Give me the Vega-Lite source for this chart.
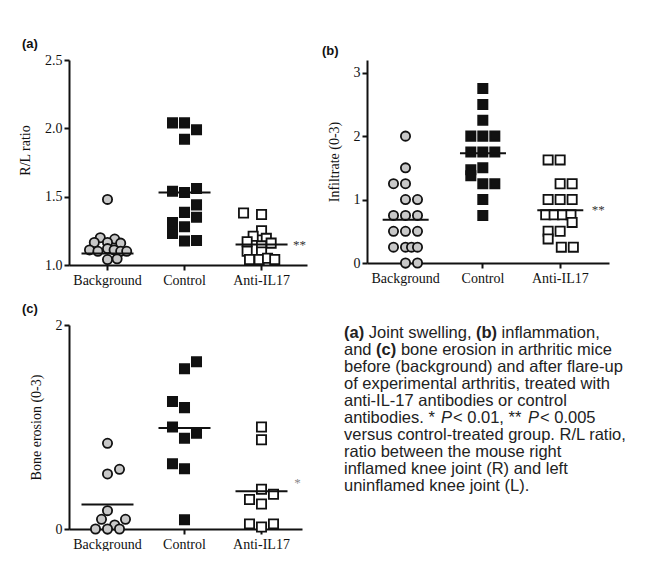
{
  "$schema": "https://vega.github.io/schema/vega-lite/v6.json",
  "padding": {"left": 18, "top": 38, "right": 0, "bottom": 0},
  "background": "white",
  "bounds": "flush",
  "align": "none",
  "columns": 2,
  "spacing": {"row": 60, "column": 60},
  "config": {
    "view": {"stroke": null},
    "axis": {
      "domainColor": "#111", "domainWidth": 2, "tickColor": "#111", "tickWidth": 2, "tickSize": 5,
      "labelFont": "Liberation Serif", "labelFontSize": 14, "labelColor": "#111", "labelPadding": 2,
      "titleFont": "Liberation Serif", "titleFontSize": 14, "titleFontWeight": "normal", "titleColor": "#111",
      "grid": false
    },
    "axisX": {"labelAngle": 0, "title": null, "labelPadding": 3},
    "axisY": {"titlePadding": 12},
    "title": {"font": "Liberation Sans", "fontSize": 13, "fontWeight": "bold", "color": "#111", "anchor": "start", "frame": "group", "offset": 2}
  },
  "datasets": {
    "points": [
      {"panel": "a", "group": "Background", "value": 1.48, "col": 0},
      {"panel": "a", "group": "Background", "value": 1.20, "col": -0.6},
      {"panel": "a", "group": "Background", "value": 1.19, "col": 0.6},
      {"panel": "a", "group": "Background", "value": 1.165, "col": -1.1},
      {"panel": "a", "group": "Background", "value": 1.165, "col": 0},
      {"panel": "a", "group": "Background", "value": 1.16, "col": 1.1},
      {"panel": "a", "group": "Background", "value": 1.11, "col": -1.5},
      {"panel": "a", "group": "Background", "value": 1.10, "col": -0.8},
      {"panel": "a", "group": "Background", "value": 1.12, "col": 0},
      {"panel": "a", "group": "Background", "value": 1.11, "col": 0.55},
      {"panel": "a", "group": "Background", "value": 1.10, "col": 1.1},
      {"panel": "a", "group": "Background", "value": 1.10, "col": 1.6},
      {"panel": "a", "group": "Background", "value": 1.04, "col": 0},
      {"panel": "a", "group": "Background", "value": 1.045, "col": 0.8},
      {"panel": "a", "group": "Control", "value": 2.04, "col": -1},
      {"panel": "a", "group": "Control", "value": 2.04, "col": 0},
      {"panel": "a", "group": "Control", "value": 1.99, "col": 1},
      {"panel": "a", "group": "Control", "value": 1.92, "col": 0},
      {"panel": "a", "group": "Control", "value": 1.54, "col": -1},
      {"panel": "a", "group": "Control", "value": 1.53, "col": 0},
      {"panel": "a", "group": "Control", "value": 1.56, "col": 1},
      {"panel": "a", "group": "Control", "value": 1.44, "col": 1},
      {"panel": "a", "group": "Control", "value": 1.385, "col": 0},
      {"panel": "a", "group": "Control", "value": 1.35, "col": 1},
      {"panel": "a", "group": "Control", "value": 1.31, "col": -1},
      {"panel": "a", "group": "Control", "value": 1.28, "col": 0},
      {"panel": "a", "group": "Control", "value": 1.23, "col": -1},
      {"panel": "a", "group": "Control", "value": 1.175, "col": 0},
      {"panel": "a", "group": "Control", "value": 1.18, "col": 1},
      {"panel": "a", "group": "Anti-IL17", "value": 1.38, "col": -1.5},
      {"panel": "a", "group": "Anti-IL17", "value": 1.37, "col": 0},
      {"panel": "a", "group": "Anti-IL17", "value": 1.25, "col": 0},
      {"panel": "a", "group": "Anti-IL17", "value": 1.21, "col": -0.7},
      {"panel": "a", "group": "Anti-IL17", "value": 1.195, "col": 0.4},
      {"panel": "a", "group": "Anti-IL17", "value": 1.17, "col": -1.2},
      {"panel": "a", "group": "Anti-IL17", "value": 1.16, "col": 0.8},
      {"panel": "a", "group": "Anti-IL17", "value": 1.14, "col": 0},
      {"panel": "a", "group": "Anti-IL17", "value": 1.10, "col": -1.2},
      {"panel": "a", "group": "Anti-IL17", "value": 1.095, "col": 0},
      {"panel": "a", "group": "Anti-IL17", "value": 1.04, "col": -1},
      {"panel": "a", "group": "Anti-IL17", "value": 1.04, "col": -0.2},
      {"panel": "a", "group": "Anti-IL17", "value": 1.05, "col": 0.5},
      {"panel": "a", "group": "Anti-IL17", "value": 1.04, "col": 1.1},
      {"panel": "b", "group": "Background", "value": 2.0, "col": 0},
      {"panel": "b", "group": "Background", "value": 1.5, "col": 0},
      {"panel": "b", "group": "Background", "value": 1.25, "col": -1},
      {"panel": "b", "group": "Background", "value": 1.25, "col": 0},
      {"panel": "b", "group": "Background", "value": 1.0, "col": 0},
      {"panel": "b", "group": "Background", "value": 1.0, "col": 1},
      {"panel": "b", "group": "Background", "value": 0.75, "col": -1},
      {"panel": "b", "group": "Background", "value": 0.75, "col": 0},
      {"panel": "b", "group": "Background", "value": 0.75, "col": 1},
      {"panel": "b", "group": "Background", "value": 0.5, "col": -1},
      {"panel": "b", "group": "Background", "value": 0.5, "col": 0},
      {"panel": "b", "group": "Background", "value": 0.5, "col": 1},
      {"panel": "b", "group": "Background", "value": 0.25, "col": -1},
      {"panel": "b", "group": "Background", "value": 0.25, "col": 0},
      {"panel": "b", "group": "Background", "value": 0.25, "col": 0.5},
      {"panel": "b", "group": "Background", "value": 0.25, "col": 1},
      {"panel": "b", "group": "Background", "value": 0.0, "col": 0},
      {"panel": "b", "group": "Background", "value": 0.0, "col": 1},
      {"panel": "b", "group": "Control", "value": 2.75, "col": 0},
      {"panel": "b", "group": "Control", "value": 2.5, "col": 0},
      {"panel": "b", "group": "Control", "value": 2.25, "col": 0},
      {"panel": "b", "group": "Control", "value": 2.0, "col": -1},
      {"panel": "b", "group": "Control", "value": 2.0, "col": 0},
      {"panel": "b", "group": "Control", "value": 2.0, "col": 1},
      {"panel": "b", "group": "Control", "value": 1.75, "col": -1},
      {"panel": "b", "group": "Control", "value": 1.75, "col": 0},
      {"panel": "b", "group": "Control", "value": 1.75, "col": 1},
      {"panel": "b", "group": "Control", "value": 1.5, "col": 0},
      {"panel": "b", "group": "Control", "value": 1.47, "col": -1},
      {"panel": "b", "group": "Control", "value": 1.375, "col": -1},
      {"panel": "b", "group": "Control", "value": 1.25, "col": 0},
      {"panel": "b", "group": "Control", "value": 1.25, "col": 1},
      {"panel": "b", "group": "Control", "value": 1.0, "col": 0},
      {"panel": "b", "group": "Control", "value": 0.75, "col": 0},
      {"panel": "b", "group": "Anti-IL17", "value": 1.625, "col": -1},
      {"panel": "b", "group": "Anti-IL17", "value": 1.625, "col": 0},
      {"panel": "b", "group": "Anti-IL17", "value": 1.25, "col": 0},
      {"panel": "b", "group": "Anti-IL17", "value": 1.25, "col": 1},
      {"panel": "b", "group": "Anti-IL17", "value": 1.0, "col": -1},
      {"panel": "b", "group": "Anti-IL17", "value": 1.0, "col": 0},
      {"panel": "b", "group": "Anti-IL17", "value": 1.0, "col": 1},
      {"panel": "b", "group": "Anti-IL17", "value": 0.76, "col": -1.2},
      {"panel": "b", "group": "Anti-IL17", "value": 0.76, "col": -0.5},
      {"panel": "b", "group": "Anti-IL17", "value": 0.76, "col": 0.2},
      {"panel": "b", "group": "Anti-IL17", "value": 0.76, "col": 0.9},
      {"panel": "b", "group": "Anti-IL17", "value": 0.64, "col": 1},
      {"panel": "b", "group": "Anti-IL17", "value": 0.5, "col": -1},
      {"panel": "b", "group": "Anti-IL17", "value": 0.5, "col": 0},
      {"panel": "b", "group": "Anti-IL17", "value": 0.38, "col": -1},
      {"panel": "b", "group": "Anti-IL17", "value": 0.25, "col": 0.1},
      {"panel": "b", "group": "Anti-IL17", "value": 0.25, "col": 1.1},
      {"panel": "c", "group": "Background", "value": 0.84, "col": 0},
      {"panel": "c", "group": "Background", "value": 0.54, "col": 0},
      {"panel": "c", "group": "Background", "value": 0.585, "col": 1},
      {"panel": "c", "group": "Background", "value": 0.18, "col": 0},
      {"panel": "c", "group": "Background", "value": 0.095, "col": -0.5},
      {"panel": "c", "group": "Background", "value": 0.095, "col": 1.5},
      {"panel": "c", "group": "Background", "value": 0.04, "col": 0.6},
      {"panel": "c", "group": "Background", "value": 0.0, "col": -1},
      {"panel": "c", "group": "Background", "value": 0.0, "col": 0},
      {"panel": "c", "group": "Background", "value": 0.0, "col": 1},
      {"panel": "c", "group": "Control", "value": 1.64, "col": 1},
      {"panel": "c", "group": "Control", "value": 1.57, "col": 0},
      {"panel": "c", "group": "Control", "value": 1.25, "col": -1},
      {"panel": "c", "group": "Control", "value": 1.19, "col": 0},
      {"panel": "c", "group": "Control", "value": 1.0, "col": -1},
      {"panel": "c", "group": "Control", "value": 0.94, "col": 1},
      {"panel": "c", "group": "Control", "value": 0.89, "col": 0},
      {"panel": "c", "group": "Control", "value": 0.64, "col": -1},
      {"panel": "c", "group": "Control", "value": 0.59, "col": 0},
      {"panel": "c", "group": "Control", "value": 0.09, "col": 0},
      {"panel": "c", "group": "Anti-IL17", "value": 1.0, "col": 0},
      {"panel": "c", "group": "Anti-IL17", "value": 0.875, "col": 0},
      {"panel": "c", "group": "Anti-IL17", "value": 0.39, "col": 0},
      {"panel": "c", "group": "Anti-IL17", "value": 0.34, "col": 1},
      {"panel": "c", "group": "Anti-IL17", "value": 0.29, "col": -1},
      {"panel": "c", "group": "Anti-IL17", "value": 0.245, "col": 0},
      {"panel": "c", "group": "Anti-IL17", "value": 0.05, "col": -1},
      {"panel": "c", "group": "Anti-IL17", "value": 0.02, "col": 0},
      {"panel": "c", "group": "Anti-IL17", "value": 0.05, "col": 1}
    ],
    "means": [
      {"panel": "a", "group": "Background", "value": 1.085},
      {"panel": "a", "group": "Control", "value": 1.53},
      {"panel": "a", "group": "Anti-IL17", "value": 1.15},
      {"panel": "b", "group": "Background", "value": 0.68},
      {"panel": "b", "group": "Control", "value": 1.73},
      {"panel": "b", "group": "Anti-IL17", "value": 0.83},
      {"panel": "c", "group": "Background", "value": 0.24},
      {"panel": "c", "group": "Control", "value": 0.99},
      {"panel": "c", "group": "Anti-IL17", "value": 0.37}
    ],
    "sig": [
      {"panel": "a", "group": "Anti-IL17", "value": 1.15, "label": "**"},
      {"panel": "b", "group": "Anti-IL17", "value": 0.84, "label": "**"},
      {"panel": "c", "group": "Anti-IL17", "value": 0.45, "label": "*"}
    ],
    "caption": [
      {"line": 1, "seg": "1a", "text": "(a)"},
      {"line": 1, "seg": "1b", "text": "Joint swelling,"},
      {"line": 1, "seg": "1c", "text": "(b)"},
      {"line": 1, "seg": "1d", "text": "inflammation,"},
      {"line": 2, "seg": "2a", "text": "and"},
      {"line": 2, "seg": "2b", "text": "(c)"},
      {"line": 2, "seg": "2c", "text": "bone erosion in arthritic mice"},
      {"line": 3, "seg": "p", "text": "before (background) and after flare-up"},
      {"line": 4, "seg": "p", "text": "of experimental arthritis, treated with"},
      {"line": 5, "seg": "p", "text": "anti-IL-17 antibodies or control"},
      {"line": 6, "seg": "6a", "text": "antibodies. *"},
      {"line": 6, "seg": "6b", "text": "P"},
      {"line": 6, "seg": "6c", "text": "< 0.01, **"},
      {"line": 6, "seg": "6d", "text": "P"},
      {"line": 6, "seg": "6e", "text": "< 0.005"},
      {"line": 7, "seg": "p", "text": "versus control-treated group. R/L ratio,"},
      {"line": 8, "seg": "p", "text": "ratio between the mouse right"},
      {"line": 9, "seg": "p", "text": "inflamed knee joint (R) and left"},
      {"line": 10, "seg": "p", "text": "uninflamed knee joint (L)."}
    ]
  },
  "concat": [
    {
      "width": 238, "height": 205,
      "title": {"text": "(a)", "dx": -47},
      "layer": [
        {
          "data": {"name": "points"},
          "transform": [{"filter": "datum.panel === 'a'"}],
          "mark": {"type": "point", "filled": true, "size": 85, "stroke": "#111", "strokeWidth": 1.8, "opacity": 1},
          "encoding": {
            "x": {"field": "group", "type": "nominal", "sort": ["Background", "Control", "Anti-IL17"], "scale": {"paddingInner": 0, "paddingOuter": 0.045, "align": 0}},
            "xOffset": {"field": "col", "type": "quantitative", "scale": {"domain": [-3, 3], "range": [2.5, 74.5]}},
            "y": {"field": "value", "type": "quantitative", "title": "R/L ratio", "scale": {"domain": [1, 2.5], "nice": false, "zero": false}, "axis": {"values": [1, 1.5, 2, 2.5], "format": ".1f", "titleY": 90}},
            "shape": {"field": "group", "type": "nominal", "scale": {"domain": ["Background", "Control", "Anti-IL17"], "range": ["circle", "square", "square"]}, "legend": null},
            "fill": {"field": "group", "type": "nominal", "scale": {"domain": ["Background", "Control", "Anti-IL17"], "range": ["#c8c8c8", "#111111", "#ffffff"]}, "legend": null}
          }
        },
        {
          "data": {"name": "means"},
          "transform": [{"filter": "datum.panel === 'a'"}],
          "mark": {"type": "tick", "color": "#111", "thickness": 2, "opacity": 1},
          "encoding": {
            "x": {"field": "group", "type": "nominal", "sort": ["Background", "Control", "Anti-IL17"]},
            "y": {"field": "value", "type": "quantitative"},
            "size": {"value": 52}
          }
        },
        {
          "data": {"name": "sig"},
          "transform": [{"filter": "datum.panel === 'a'"}],
          "mark": {"type": "text", "dx": 38, "align": "center", "baseline": "middle", "font": "Liberation Serif", "fontSize": 13, "color": "#333"},
          "encoding": {
            "x": {"field": "group", "type": "nominal", "sort": ["Background", "Control", "Anti-IL17"]},
            "y": {"field": "value", "type": "quantitative"},
            "text": {"field": "label"}
          }
        }
      ]
    },
    {
      "width": 242, "height": 203,
      "title": {"text": "(b)", "dx": -45},
      "layer": [
        {
          "data": {"name": "points"},
          "transform": [{"filter": "datum.panel === 'b'"}],
          "mark": {"type": "point", "filled": true, "size": 85, "stroke": "#111", "strokeWidth": 1.8, "opacity": 1},
          "encoding": {
            "x": {"field": "group", "type": "nominal", "sort": ["Background", "Control", "Anti-IL17"], "scale": {"paddingInner": 0, "paddingOuter": 0.065, "align": 0}},
            "xOffset": {"field": "col", "type": "quantitative", "scale": {"domain": [-3, 3], "range": [2.5, 74.5]}},
            "y": {"field": "value", "type": "quantitative", "title": "Infiltrate (0-3)", "scale": {"domain": [0, 3.2], "nice": false}, "axis": {"values": [0, 1, 2, 3], "format": "d"}},
            "shape": {"field": "group", "type": "nominal", "scale": {"domain": ["Background", "Control", "Anti-IL17"], "range": ["circle", "square", "square"]}, "legend": null},
            "fill": {"field": "group", "type": "nominal", "scale": {"domain": ["Background", "Control", "Anti-IL17"], "range": ["#c8c8c8", "#111111", "#ffffff"]}, "legend": null}
          }
        },
        {
          "data": {"name": "means"},
          "transform": [{"filter": "datum.panel === 'b'"}],
          "mark": {"type": "tick", "color": "#111", "thickness": 2, "opacity": 1},
          "encoding": {
            "x": {"field": "group", "type": "nominal", "sort": ["Background", "Control", "Anti-IL17"]},
            "y": {"field": "value", "type": "quantitative"},
            "size": {"value": 46}
          }
        },
        {
          "data": {"name": "sig"},
          "transform": [{"filter": "datum.panel === 'b'"}],
          "mark": {"type": "text", "dx": 38, "align": "center", "baseline": "middle", "font": "Liberation Serif", "fontSize": 13, "color": "#333"},
          "encoding": {
            "x": {"field": "group", "type": "nominal", "sort": ["Background", "Control", "Anti-IL17"]},
            "y": {"field": "value", "type": "quantitative"},
            "text": {"field": "label"}
          }
        }
      ]
    },
    {
      "width": 233, "height": 204,
      "title": {"text": "(c)", "dx": -47},
      "layer": [
        {
          "data": {"name": "points"},
          "transform": [{"filter": "datum.panel === 'c'"}],
          "mark": {"type": "point", "filled": true, "size": 85, "stroke": "#111", "strokeWidth": 1.8, "opacity": 1},
          "encoding": {
            "x": {"field": "group", "type": "nominal", "sort": ["Background", "Control", "Anti-IL17"], "scale": {"paddingInner": 0, "paddingOuter": 0.013, "align": 0}},
            "xOffset": {"field": "col", "type": "quantitative", "scale": {"domain": [-3, 3], "range": [2.5, 74.5]}},
            "y": {"field": "value", "type": "quantitative", "title": "Bone erosion (0-3)", "scale": {"domain": [0, 2], "nice": false}, "axis": {"values": [0, 1, 2], "format": "d"}},
            "shape": {"field": "group", "type": "nominal", "scale": {"domain": ["Background", "Control", "Anti-IL17"], "range": ["circle", "square", "square"]}, "legend": null},
            "fill": {"field": "group", "type": "nominal", "scale": {"domain": ["Background", "Control", "Anti-IL17"], "range": ["#c8c8c8", "#111111", "#ffffff"]}, "legend": null}
          }
        },
        {
          "data": {"name": "means"},
          "transform": [{"filter": "datum.panel === 'c'"}],
          "mark": {"type": "tick", "color": "#111", "thickness": 2, "opacity": 1},
          "encoding": {
            "x": {"field": "group", "type": "nominal", "sort": ["Background", "Control", "Anti-IL17"]},
            "y": {"field": "value", "type": "quantitative"},
            "size": {"value": 52}
          }
        },
        {
          "data": {"name": "sig"},
          "transform": [{"filter": "datum.panel === 'c'"}],
          "mark": {"type": "text", "dx": 36, "align": "center", "baseline": "middle", "font": "Liberation Serif", "fontSize": 13, "color": "#888"},
          "encoding": {
            "x": {"field": "group", "type": "nominal", "sort": ["Background", "Control", "Anti-IL17"]},
            "y": {"field": "value", "type": "quantitative"},
            "text": {"field": "label"}
          }
        }
      ]
    },
    {
      "width": 300, "height": 169,
      "data": {"name": "caption"},
      "encoding": {
        "y": {"field": "line", "type": "ordinal", "axis": null, "scale": {"paddingInner": 0, "paddingOuter": 0}},
        "x": {"value": -23},
        "text": {"field": "text"}
      },
      "layer": [
        {"transform": [{"filter": "datum.seg === 'p' || datum.seg === '2a' || datum.seg === '6a'"}], "mark": {"type": "text", "align": "left", "baseline": "middle", "font": "Liberation Sans", "fontSize": 16.5, "color": "#222"}},
        {"transform": [{"filter": "datum.seg === '1a'"}], "mark": {"type": "text", "align": "left", "baseline": "middle", "font": "Liberation Sans", "fontSize": 16.5, "fontWeight": "bold", "color": "#222"}},
        {"transform": [{"filter": "datum.seg === '1b'"}], "mark": {"type": "text", "align": "left", "baseline": "middle", "dx": 24.8, "font": "Liberation Sans", "fontSize": 16.5, "color": "#222"}},
        {"transform": [{"filter": "datum.seg === '1c'"}], "mark": {"type": "text", "align": "left", "baseline": "middle", "dx": 132, "font": "Liberation Sans", "fontSize": 16.5, "fontWeight": "bold", "color": "#222"}},
        {"transform": [{"filter": "datum.seg === '1d'"}], "mark": {"type": "text", "align": "left", "baseline": "middle", "dx": 157.6, "font": "Liberation Sans", "fontSize": 16.5, "color": "#222"}},
        {"transform": [{"filter": "datum.seg === '2b'"}], "mark": {"type": "text", "align": "left", "baseline": "middle", "dx": 32.1, "font": "Liberation Sans", "fontSize": 16.5, "fontWeight": "bold", "color": "#222"}},
        {"transform": [{"filter": "datum.seg === '2c'"}], "mark": {"type": "text", "align": "left", "baseline": "middle", "dx": 56.9, "font": "Liberation Sans", "fontSize": 16.5, "color": "#222"}},
        {"transform": [{"filter": "datum.seg === '6b'"}], "mark": {"type": "text", "align": "left", "baseline": "middle", "dx": 97, "font": "Liberation Sans", "fontSize": 16.5, "fontStyle": "italic", "color": "#222"}},
        {"transform": [{"filter": "datum.seg === '6c'"}], "mark": {"type": "text", "align": "left", "baseline": "middle", "dx": 109, "font": "Liberation Sans", "fontSize": 16.5, "color": "#222"}},
        {"transform": [{"filter": "datum.seg === '6d'"}], "mark": {"type": "text", "align": "left", "baseline": "middle", "dx": 184, "font": "Liberation Sans", "fontSize": 16.5, "fontStyle": "italic", "color": "#222"}},
        {"transform": [{"filter": "datum.seg === '6e'"}], "mark": {"type": "text", "align": "left", "baseline": "middle", "dx": 196, "font": "Liberation Sans", "fontSize": 16.5, "color": "#222"}}
      ]
    }
  ]
}
